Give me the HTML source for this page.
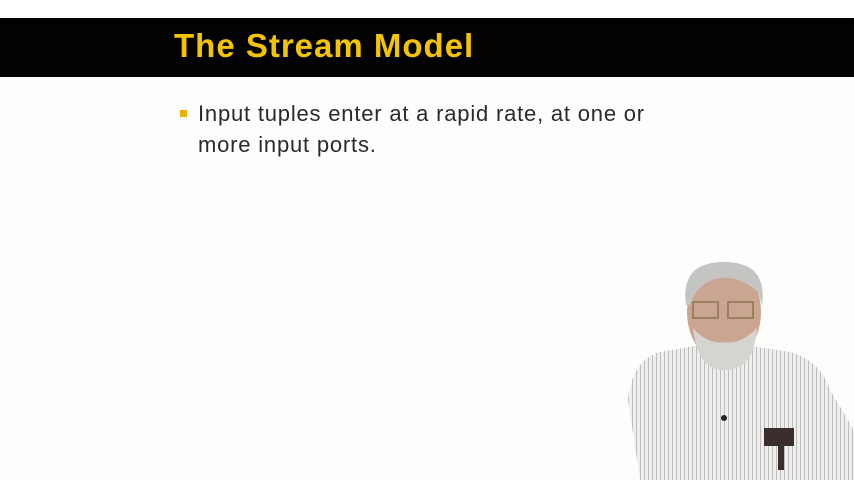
<!DOCTYPE html>
<html><head><meta charset="utf-8"><style>
html,body{margin:0;padding:0;width:854px;height:480px;overflow:hidden;background:#fdfdfb;font-family:"Liberation Sans",sans-serif}
#top{position:absolute;left:0;top:0;width:854px;height:18px;background:#fff}
#bar{position:absolute;left:0;top:18px;width:854px;height:59px;background:#020202}
#title{position:absolute;left:174px;top:27px;font-size:33px;font-weight:bold;color:#f5c400;letter-spacing:1px}
#bullet{position:absolute;left:180px;top:110px;width:7px;height:7px;background:#e8b000}
.line{position:absolute;left:198px;font-size:22px;color:#2a2a2a;letter-spacing:0.8px}
svg{position:absolute;left:0;top:0}
</style></head><body>
<div id="top"></div>
<div id="bar"></div>
<div id="title">The Stream Model</div>
<div id="bullet"></div>
<div class="line" style="top:101px">Input tuples enter at a rapid rate, at one or</div>
<div class="line" style="top:132px">more input ports.</div>
<svg width="854" height="480">
<defs><pattern id="st" width="4" height="4" patternUnits="userSpaceOnUse"><rect width="4" height="4" fill="#eeeeec"/><rect width="1" height="4" fill="#bdbdbd"/></pattern></defs>
<path d="M640,480 L628,400 Q632,360 660,352 L700,345 L745,345 L790,352 Q820,360 830,390 L854,430 L854,480 Z" fill="url(#st)"/>
<ellipse cx="724" cy="312" rx="37" ry="50" fill="#c9a592"/>
<path d="M686,305 Q680,262 724,262 Q768,262 762,305 L758,292 Q740,276 720,278 Q697,282 690,305 Z" fill="#c4c4c2"/>
<path d="M693,328 Q698,372 725,370 Q754,370 757,328 Q740,345 725,342 Q708,345 693,328 Z" fill="#d6d4d0"/>
<rect x="693" y="302" width="25" height="16" fill="none" stroke="#9a8060" stroke-width="2"/>
<rect x="728" y="302" width="25" height="16" fill="none" stroke="#9a8060" stroke-width="2"/>
<rect x="764" y="428" width="30" height="18" fill="#3a2f2c"/>
<rect x="778" y="440" width="6" height="30" fill="#3a2f2c"/>
<circle cx="724" cy="418" r="3" fill="#222"/>
</svg>
</body></html>
